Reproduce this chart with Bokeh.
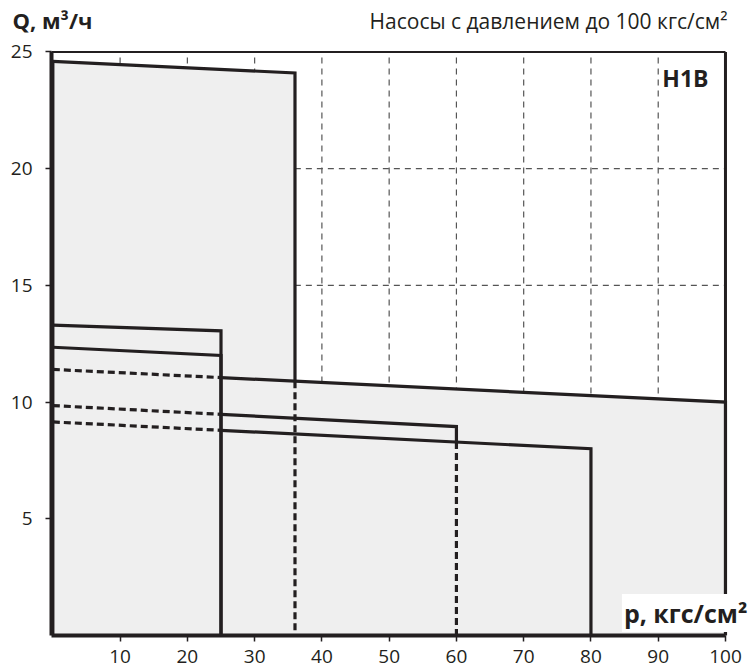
from bokeh.plotting import figure
from bokeh.layouts import column
from bokeh.models import FixedTicker, Range1d
from bokeh.embed import file_html
from bokeh.resources import INLINE
from bokeh.core.properties import value

# Operating envelopes of the pump groups: flow Q (м³/ч) falls linearly
# from q_start at p = 0 to q_end at the maximum pressure p_end (кгс/см²).
p_end = [36, 25, 25, 100, 60, 80]
q_start = [24.6, 13.3, 12.35, 11.4, 9.85, 9.15]
q_end = [24.1, 13.05, 12.0, 10.0, 8.95, 8.0]
# top edge is hidden (dashed) for p below this value
top_dash_until = [0, 0, 0, 25, 25, 25]
# vertical edge is hidden (dashed) below the top edge of this group (None = solid)
side_hidden_by = [3, None, None, None, 5, None]

x_ticks = [10, 20, 30, 40, 50, 60, 70, 80, 90, 100]
y_ticks = [5, 10, 15, 20, 25]
x_grid = [10, 20, 30, 40, 50, 60, 70, 80, 90]
y_grid = [5, 10, 15, 20]
P_MAX, Q_MAX = 100, 25

INK = "#231f20"
FILL = "#efefef"
FONT = "Open Sans"
LW = 3.2
DASH = "7 4"


def q_at(i, p):
    return q_start[i] + (q_end[i] - q_start[i]) * p / p_end[i]


# ---- header line with the axis name and the series caption ----
head = figure(width=750, height=37, toolbar_location=None, output_backend="svg",
              x_range=Range1d(0, 750), y_range=Range1d(0, 37),
              x_axis_location=None, y_axis_location=None,
              min_border_left=0, min_border_right=0,
              min_border_top=0, min_border_bottom=0)
head.frame_align = False
head.outline_line_color = None
head.grid.visible = False
head.text(x=[12], y=[18], text=["Q, м³/ч"], text_font=value(FONT),
          text_font_size="22px", text_font_style="bold", text_color=INK,
          text_baseline="alphabetic")
head.text(x=[727], y=[16.8], text=["Насосы с давлением до 100 кгс/см²"],
          text_font=value(FONT), text_font_size="21px", text_color=INK,
          text_align="right", text_baseline="alphabetic")

# ---- main chart ----
p = figure(width=750, height=635, title=None, toolbar_location=None,
           output_backend="svg",
           x_range=Range1d(-0.2, 103.72), y_range=Range1d(0, 25.62),
           min_border_left=51, min_border_right=0,
           min_border_top=0, min_border_bottom=37)
p.frame_align = False
p.background_fill_color = "white"
p.border_fill_color = "white"
p.outline_line_color = None

for ax in (p.xaxis[0], p.yaxis[0]):
    ax.axis_line_color = INK
    ax.axis_line_width = 4
    ax.major_tick_line_color = INK
    ax.major_tick_line_width = 1.5
    ax.major_tick_in = 0
    ax.major_tick_out = 6
    ax.minor_tick_line_color = None
    ax.major_label_text_font = FONT
    ax.major_label_text_font_size = "19px"
    ax.major_label_text_color = INK
p.xaxis.ticker = FixedTicker(ticks=x_ticks)
p.yaxis.ticker = FixedTicker(ticks=y_ticks)
p.xaxis.bounds = (-0.2, P_MAX)
p.yaxis.bounds = (0, Q_MAX)
p.xaxis.major_label_standoff = 8
p.yaxis.major_label_standoff = 13
p.grid.visible = False

# dashed grid, later covered by the filled envelopes
grid_style = dict(line_color="#555555", line_width=1.2, line_dash="6 5")
p.segment(x0=x_grid, y0=[0] * len(x_grid), x1=x_grid, y1=[Q_MAX] * len(x_grid),
          **grid_style)
p.segment(x0=[0] * len(y_grid), y0=y_grid, x1=[P_MAX] * len(y_grid), y1=y_grid,
          **grid_style)

# filled envelopes
for i in range(len(p_end)):
    p.patch([0, 0, p_end[i], p_end[i]], [0, q_start[i], q_end[i], 0],
            fill_color=FILL, line_color=None)

# envelope edges
for i in range(len(p_end)):
    pe = p_end[i]
    split_q = q_at(side_hidden_by[i], pe) if side_hidden_by[i] is not None else 0
    d0 = top_dash_until[i]
    p.line([d0, pe, pe], [q_at(i, d0), q_end[i], split_q],
           line_color=INK, line_width=LW, line_join="miter")
    if d0 > 0:
        p.line([0, d0], [q_start[i], q_at(i, d0)],
               line_color=INK, line_width=LW, line_dash=DASH)
    if split_q > 0:
        p.line([pe, pe], [split_q, 0],
               line_color=INK, line_width=LW, line_dash=DASH)

# left envelope edge along the axis
p.line([0, 0], [0, max(q_start)], line_color=INK, line_width=LW)

# top and right borders of the chart area
p.line([-0.2, P_MAX], [Q_MAX, Q_MAX], line_color=INK, line_width=2)
p.line([P_MAX, P_MAX], [0, Q_MAX], line_color=INK, line_width=3)

# in-chart labels
p.text(x=[97.48], y=[23.89], text=["H1B"], text_font=value(FONT),
       text_font_size="23px", text_font_style="bold", text_color=INK,
       text_align="right", text_baseline="alphabetic")
p.text(x=[84.6], y=[0.96], text=["p, кгс/см²"], text_font=value(FONT),
       text_font_size="25px", text_font_style="bold", text_color=INK,
       text_baseline="alphabetic", background_fill_color="white", padding=2)

layout = column(head, p, spacing=0)
open("out.html", "w").write(file_html(layout, INLINE))
